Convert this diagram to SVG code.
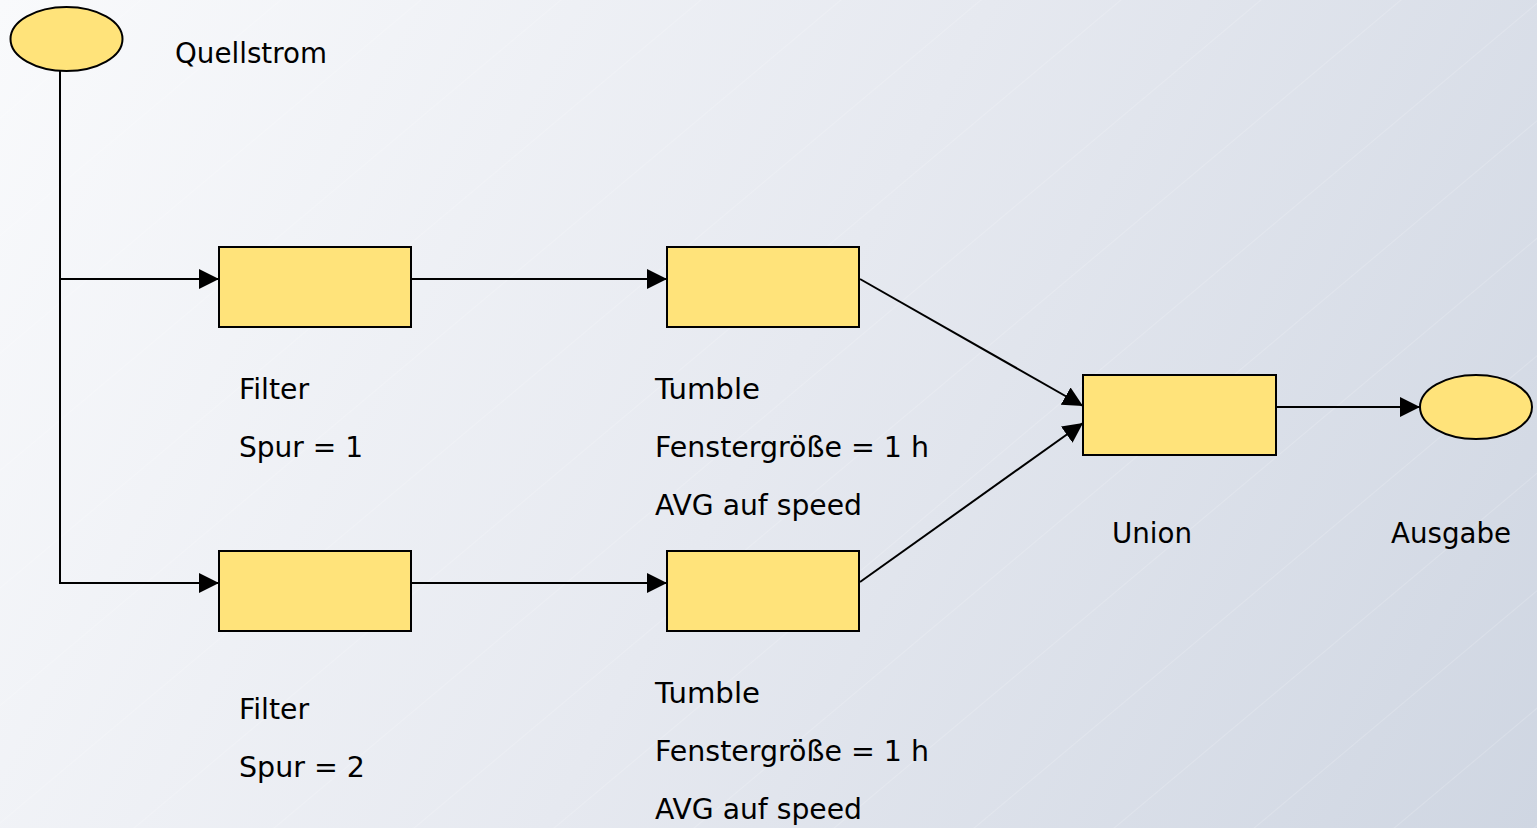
<svg xmlns="http://www.w3.org/2000/svg" width="1537" height="828" viewBox="0 0 1537 828">
<defs>
<linearGradient id="bg" x1="0" y1="0" x2="1537" y2="828" gradientUnits="userSpaceOnUse">
<stop offset="0" stop-color="#f9fafc"/>
<stop offset="0.5" stop-color="#e6e9f0"/>
<stop offset="1" stop-color="#cfd6e2"/>
</linearGradient>
<pattern id="stripes" width="90" height="90" patternUnits="userSpaceOnUse" patternTransform="rotate(-40)">
<line x1="0" y1="0" x2="90" y2="0" stroke="#ffffff" stroke-opacity="0.35" stroke-width="1"/>
</pattern>
<marker id="arr" viewBox="0 0 20 20" refX="20" refY="10" markerWidth="20" markerHeight="20" markerUnits="userSpaceOnUse" orient="auto">
<path d="M0,0 L20,10 L0,20 Z" fill="#000"/>
</marker>
<style>
.box{fill:#ffe37a;stroke:#000;stroke-width:2}
.ell{fill:#ffe37a;stroke:#000;stroke-width:2}
.lbl{font-family:"DejaVu Sans",Verdana,sans-serif;font-size:28px;fill:#000}
.con{fill:none;stroke:#000;stroke-width:2}
</style>
</defs>
<rect width="1537" height="828" fill="url(#bg)"/>
<rect width="1537" height="828" fill="url(#stripes)"/>
<g id="connectors">
<polyline class="con" points="60,71 60,583 219,583" marker-end="url(#arr)"/>
<line class="con" x1="60" y1="279" x2="219" y2="279" marker-end="url(#arr)"/>
<line class="con" x1="411" y1="279" x2="667" y2="279" marker-end="url(#arr)"/>
<line class="con" x1="411" y1="583" x2="667" y2="583" marker-end="url(#arr)"/>
<line class="con" x1="860" y1="279" x2="1083" y2="406" marker-end="url(#arr)"/>
<line class="con" x1="860" y1="582" x2="1083" y2="423" marker-end="url(#arr)"/>
<line class="con" x1="1276" y1="407" x2="1420" y2="407" marker-end="url(#arr)"/>
</g>
<g id="source">
<ellipse class="ell" cx="66.5" cy="39" rx="56" ry="32"/>
<text class="lbl" x="175" y="63" textLength="152" lengthAdjust="spacingAndGlyphs">Quellstrom</text>
</g>
<g id="filter1">
<rect class="box" x="219" y="247" width="192" height="80"/>
<text class="lbl" x="239" y="399" textLength="70" lengthAdjust="spacingAndGlyphs">Filter</text>
<text class="lbl" x="239" y="457" textLength="124" lengthAdjust="spacingAndGlyphs">Spur = 1</text>
</g>
<g id="tumble1">
<rect class="box" x="667" y="247" width="192" height="80"/>
<text class="lbl" x="655" y="399" textLength="105" lengthAdjust="spacingAndGlyphs">Tumble</text>
<text class="lbl" x="655" y="457" textLength="274" lengthAdjust="spacingAndGlyphs">Fenstergröße = 1 h</text>
<text class="lbl" x="655" y="515" textLength="207" lengthAdjust="spacingAndGlyphs">AVG auf speed</text>
</g>
<g id="filter2">
<rect class="box" x="219" y="551" width="192" height="80"/>
<text class="lbl" x="239" y="719" textLength="70" lengthAdjust="spacingAndGlyphs">Filter</text>
<text class="lbl" x="239" y="777" textLength="126" lengthAdjust="spacingAndGlyphs">Spur = 2</text>
</g>
<g id="tumble2">
<rect class="box" x="667" y="551" width="192" height="80"/>
<text class="lbl" x="655" y="703" textLength="105" lengthAdjust="spacingAndGlyphs">Tumble</text>
<text class="lbl" x="655" y="761" textLength="274" lengthAdjust="spacingAndGlyphs">Fenstergröße = 1 h</text>
<text class="lbl" x="655" y="819" textLength="207" lengthAdjust="spacingAndGlyphs">AVG auf speed</text>
</g>
<g id="union">
<rect class="box" x="1083" y="375" width="193" height="80"/>
<text class="lbl" x="1112" y="543" textLength="80" lengthAdjust="spacingAndGlyphs">Union</text>
</g>
<g id="output">
<ellipse class="ell" cx="1476" cy="407" rx="56" ry="32"/>
<text class="lbl" x="1391" y="543" textLength="120" lengthAdjust="spacingAndGlyphs">Ausgabe</text>
</g>
</svg>
